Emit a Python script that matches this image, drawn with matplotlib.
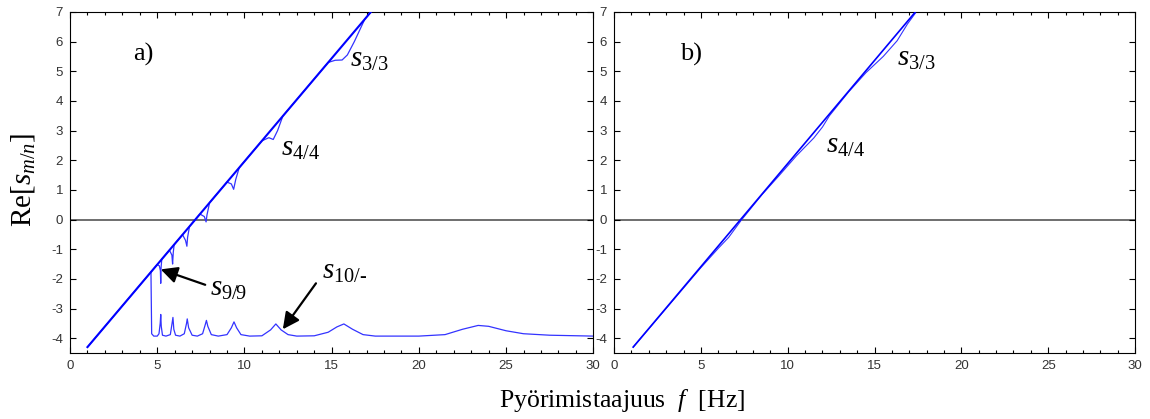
import numpy as np
import matplotlib
matplotlib.use('Agg')
import matplotlib.pyplot as plt
from matplotlib.ticker import MultipleLocator

plt.rcParams['mathtext.fontset'] = 'custom'
plt.rcParams['mathtext.rm'] = 'Liberation Serif'
plt.rcParams['mathtext.it'] = 'Liberation Serif:italic'
plt.rcParams['axes.unicode_minus'] = False

# Paneeli a) - suora haara
a_line_f = [1.0, 17.25]
a_line_y = [-4.3, 7.0]

# Paneeli a) - kuopat suoran haaran vieressa
a_dip_f = [1.0, 5.0, 5.12, 5.18, 5.2, 5.22, 5.26, 5.7, 5.84, 5.88, 5.92, 5.97,
           6.45, 6.62, 6.7, 6.74, 6.85, 7.45, 7.7, 7.8, 7.85, 8.0, 9.0, 9.25,
           9.38, 9.5, 9.7, 11.0, 11.4, 11.65, 11.9, 12.2, 14.8, 15.2, 15.6,
           15.9, 16.3, 16.9, 17.25]
a_dip_y = [-4.3, -1.518, -1.56, -1.72, -2.15, -1.62, -1.338, -1.032, -1.2, -1.5,
           -1.1, -0.844, -0.51, -0.7, -0.9, -0.6, -0.232, 0.185, 0.1, -0.08,
           0.15, 0.568, 1.263, 1.2, 1.02, 1.35, 1.75, 2.654, 2.76, 2.7, 3.0,
           3.488, 5.297, 5.37, 5.38, 5.55, 6.0, 6.757, 7.0]

# Paneeli a) - alempi haara (s10/-)
a_low_f = [4.64, 4.68, 4.8, 5.0, 5.1, 5.17, 5.2, 5.23, 5.3, 5.5, 5.75, 5.85,
           5.9, 5.95, 6.05, 6.3, 6.55, 6.68, 6.72, 6.8, 7.0, 7.3, 7.6, 7.75,
           7.82, 7.9, 8.1, 8.5, 9.0, 9.25, 9.4, 9.55, 9.8, 10.3, 11.0, 11.5,
           11.8, 12.1, 12.5, 13.0, 14.0, 14.8, 15.3, 15.7, 16.2, 16.8, 17.5,
           20.0, 21.5, 22.5, 23.4, 24.0, 25.0, 26.0, 27.5, 30.0]
a_low_y = [-1.77, -3.85, -3.93, -3.93, -3.85, -3.5, -3.2, -3.6, -3.9, -3.93,
           -3.88, -3.5, -3.3, -3.7, -3.9, -3.93, -3.85, -3.5, -3.35, -3.65,
           -3.9, -3.93, -3.85, -3.55, -3.4, -3.6, -3.88, -3.93, -3.88, -3.65,
           -3.45, -3.65, -3.88, -3.93, -3.92, -3.72, -3.52, -3.72, -3.88,
           -3.93, -3.92, -3.8, -3.62, -3.52, -3.7, -3.88, -3.93, -3.93, -3.88,
           -3.7, -3.57, -3.6, -3.75, -3.85, -3.9, -3.93]

# Paneeli b)
b_line_f = [1.1, 17.35]
b_line_y = [-4.3, 7.0]
b_curve_f = [1.1, 5.0, 6.0, 6.6, 7.3, 8.5, 9.5, 10.5, 11.5, 12.0, 12.4, 13.5,
             14.5, 15.5, 16.3, 16.9, 17.4]
b_curve_y = [-4.3, -1.62, -0.97, -0.6, -0.04, 0.83, 1.48, 2.15, 2.75, 3.12,
             3.5, 4.3, 4.95, 5.5, 6.03, 6.6, 7.0]

fig = plt.figure(figsize=(11.5, 4.19), dpi=100)
ax1 = fig.add_axes([0.0609, 0.1575, 0.455, 0.814])
ax2 = fig.add_axes([0.534, 0.1575, 0.453, 0.814])

for ax in (ax1, ax2):
    ax.axhline(0, color='#555555', lw=1.2, zorder=1)
    ax.set_xlim(0, 30)
    ax.set_ylim(-4.5, 7)
    ax.xaxis.set_major_locator(MultipleLocator(5))
    ax.xaxis.set_minor_locator(MultipleLocator(1))
    ax.yaxis.set_major_locator(MultipleLocator(1))
    ax.tick_params(which='both', direction='in', top=True, right=True,
                   labelsize=9.5, labelcolor='#333333', width=0.8)
    ax.tick_params(which='major', length=4, pad=5)
    ax.tick_params(which='minor', length=2)
    for s in ax.spines.values():
        s.set_linewidth(0.8)
    for lab in ax.get_xticklabels() + ax.get_yticklabels():
        lab.set_family('Liberation Sans')

ax1.plot(a_line_f, a_line_y, color='#0000ff', lw=1.5, zorder=3)
ax1.plot(a_dip_f, a_dip_y, color='#3333ff', lw=0.9, zorder=2)
ax1.plot(a_low_f, a_low_y, color='#3333ff', lw=0.9, zorder=2)

ax2.plot(b_line_f, b_line_y, color='#0000ff', lw=1.2, zorder=3)
ax2.plot(b_curve_f, b_curve_y, color='#3333ff', lw=0.8, zorder=2)

serif = 'Liberation Serif'
ax1.text(3.6, 5.55, 'a)', fontsize=19, family=serif, va='center')
ax2.text(3.8, 5.55, 'b)', fontsize=19, family=serif, va='center')

ax1.text(16.05, 5.4, r'$s_{3/3}$', fontsize=21, va='center')
ax1.text(12.1, 2.4, r'$s_{4/4}$', fontsize=21, va='center')
ax1.text(8.0, -2.3, r'$s_{9/9}$', fontsize=21, va='center')
ax1.text(14.45, -1.75, r'$s_{10/\text{-}}$', fontsize=21, va='center')
ax2.text(16.3, 5.45, r'$s_{3/3}$', fontsize=21, va='center')
ax2.text(12.2, 2.5, r'$s_{4/4}$', fontsize=21, va='center')

arrow = dict(arrowstyle='-|>', mutation_scale=25, lw=1.6, color='k',
             shrinkA=0, shrinkB=0)
ax1.annotate('', xy=(5.2, -1.68), xytext=(7.75, -2.2), arrowprops=arrow)
ax1.annotate('', xy=(12.2, -3.7), xytext=(14.1, -2.15), arrowprops=arrow)

fig.text(0.02, 0.57, r'Re[$s_{m/n}$]', rotation=90, fontsize=21,
         family=serif, ha='center', va='center')
fig.text(0.541, 0.045, r'Pyörimistaajuus  $f$  [Hz]', fontsize=18.5,
         family=serif, ha='center', va='center')

fig.savefig('out.png', dpi=100)
